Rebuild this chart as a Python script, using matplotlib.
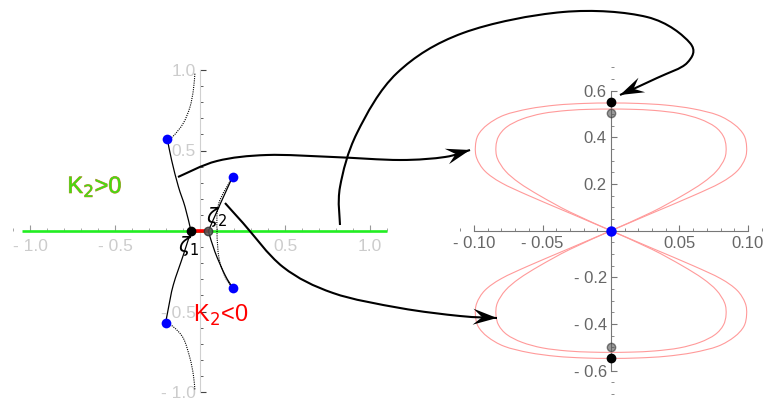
import matplotlib.pyplot as plt
import numpy as np
from matplotlib.path import Path
from matplotlib.patches import PathPatch, Polygon
import matplotlib.patheffects as pe
from matplotlib.ticker import MultipleLocator

plt.rcParams['font.family'] = ['Liberation Sans', 'DejaVu Sans']
plt.rcParams['mathtext.fontset'] = 'dejavusans'

# ---- left panel (complex plane) ----
blue_x = [-0.192, 0.192, 0.194, -0.202]
blue_y = [0.57, 0.337, -0.356, -0.57]
zeta1 = (-0.053, 0.0)
zeta2 = (0.049, 0.0)

solid_curves = [
    ([-0.192, -0.167, -0.127, -0.088, -0.053], [0.57, 0.44, 0.275, 0.15, 0.0]),
    ([-0.053, -0.098, -0.157, -0.186, -0.202], [0.0, -0.149, -0.335, -0.48, -0.57]),
    ([0.192, 0.12, 0.049], [0.337, 0.17, 0.0]),
    ([0.049, 0.088, 0.147, 0.194], [0.0, -0.13, -0.273, -0.356]),
]
dotted_curves = [
    ([-0.192, -0.157, -0.098, -0.059, -0.039, -0.03], [0.57, 0.59, 0.67, 0.77, 0.876, 0.98]),
    ([-0.202, -0.157, -0.098, -0.059, -0.039, -0.03], [-0.57, -0.595, -0.666, -0.79, -0.894, -0.987]),
    ([0.192, 0.11, 0.1, 0.112, 0.15, 0.194], [0.337, 0.17, 0.0, -0.17, -0.29, -0.356]),
]
left_xticks = [-1.0, -0.5, 0.5, 1.0]
left_xlabels = ['- 1.0', '- 0.5', '0.5', '1.0']
left_yticks = [-1.0, -0.5, 0.5, 1.0]
left_ylabels = ['- 1.0', '- 0.5', '0.5', '1.0']

# ---- right panel (figure-eight orbits), upper-right quarter of each loop ----
outer_x = [0, 0.03, 0.06, 0.08, 0.092, 0.098, 0.099, 0.097, 0.09, 0.078, 0.06, 0.04, 0.02, 0]
outer_y = [0, 0.075, 0.15, 0.205, 0.255, 0.31, 0.36, 0.41, 0.455, 0.495, 0.522, 0.538, 0.545, 0.547]
inner_x = [0, 0.03, 0.052, 0.067, 0.077, 0.083, 0.084, 0.082, 0.076, 0.065, 0.05, 0.032, 0.015, 0]
inner_y = [0, 0.08, 0.15, 0.205, 0.255, 0.31, 0.36, 0.405, 0.445, 0.478, 0.502, 0.515, 0.52, 0.521]
black_pts_y = [0.55, -0.545]
gray_pts_y = [0.503, -0.50]
right_xticks = [-0.10, -0.05, 0.05, 0.10]
right_xlabels = ['- 0.10', '- 0.05', '0.05', '0.10']
right_yticks = [-0.6, -0.4, -0.2, 0.2, 0.4, 0.6]
right_ylabels = ['- 0.6', '- 0.4', '- 0.2', '0.2', '0.4', '0.6']

# ---- connecting arrows (figure pixel waypoints) ----
arrow1 = [(178, 177), (217, 161), (267, 155), (333, 157), (400, 160), (445, 157), (470, 150)]
arrow2 = [(340, 225), (340, 187), (357, 133), (397, 73), (463, 33), (563, 12), (647, 17),
          (690, 43), (687, 63), (657, 78), (620, 95)]
arrow3 = [(225, 203), (243, 223), (283, 267), (333, 293), (400, 308), (460, 316), (497, 318)]


def smooth_path(xs, ys):
    pts = np.column_stack([xs, ys]).astype(float)
    ext = np.vstack([pts[0], pts, pts[-1]])
    verts = [pts[0]]
    codes = [Path.MOVETO]
    c2 = pts[0]
    for i in range(len(pts) - 1):
        p0, p1, p2, p3 = ext[i], ext[i + 1], ext[i + 2], ext[i + 3]
        c1 = p1 + (p2 - p0) / 6
        c2 = p2 - (p3 - p1) / 6
        verts += [c1, c2, p2]
        codes += [Path.CURVE4] * 3
    return Path(verts, codes), c2


def draw_curve(ax, xs, ys, **kw):
    path, _ = smooth_path(xs, ys)
    ax.add_patch(PathPatch(path, fill=False, transform=ax.transData, **kw))


fig = plt.figure(figsize=(7.68, 4.0), dpi=100)

# left axes: x px = 200 + 170x, y px = 231 - 161y
axl = fig.add_axes([13 / 768, 0.0, 382.5 / 768, 338 / 400])
axl.set_xlim(-1.1, 1.15)
axl.set_ylim(-169 / 161, 169 / 161)
axl.patch.set_alpha(0)
for s in ['top', 'right']:
    axl.spines[s].set_visible(False)
axl.spines['left'].set_position(('data', 0))
axl.spines['bottom'].set_position(('data', 0))
axl.spines['left'].set_bounds(-1.0, 1.0)
axl.spines['bottom'].set_bounds(-1.0, 1.0)
axl.spines['left'].set_color('#d0d0d0')
axl.spines['bottom'].set_color('#aaaaaa')
axl.set_xticks(left_xticks, left_xlabels)
axl.set_yticks(left_yticks, left_ylabels)
axl.xaxis.set_minor_locator(MultipleLocator(0.1))
axl.yaxis.set_minor_locator(MultipleLocator(0.1))
axl.tick_params(axis='both', which='both', direction='in', labelsize=12.5,
                labelcolor='#cccccc', color='#444444')
axl.tick_params(axis='x', which='both', color='#999999', pad=6)
axl.tick_params(axis='y', pad=3)
axl.tick_params(which='major', length=4)
axl.tick_params(which='minor', length=2.5)

axl.plot([-1.05, 1.1], [0, 0], color='#22ee22', lw=1.9, zorder=3, solid_capstyle='butt')
axl.plot([zeta1[0], zeta2[0]], [0, 0], color='red', lw=2.6, zorder=4)
for xs, ys in solid_curves:
    draw_curve(axl, xs, ys, color='black', lw=0.9, zorder=5)
for xs, ys in dotted_curves:
    draw_curve(axl, xs, ys, color='black', lw=0.8, ls=(0, (1, 1)), zorder=5)
axl.plot(blue_x, blue_y, 'o', color='blue', ms=7, mec='none', zorder=6)
axl.plot(*zeta1, 'o', color='black', ms=6, zorder=6)
axl.plot(*zeta2, 'o', color='#555555', alpha=0.85, ms=6, mec='#333333', zorder=6)

axl.text(-0.13, -0.093, r'$\zeta_1$', fontsize=15, ha='left', va='center', zorder=7)
axl.text(0.038, 0.09, r'$\zeta_2$', fontsize=15, ha='left', va='center', zorder=7)
axl.text(-0.78, 0.236, r'K$_2$>0', fontsize=17, color='#44dd11', ha='left', va='baseline',
         path_effects=[pe.withStroke(linewidth=0.6, foreground='#d08040')], zorder=7)
axl.text(-0.04, -0.565, r'K$_2$<0', fontsize=17, color='red', ha='left', va='baseline', zorder=7)

# right axes: x px = 611 + 1370x, y px = 230.7 - 233.5y
axr = fig.add_axes([453.5 / 768, 1.2 / 400, 315 / 768, 336.2 / 400])
axr.set_xlim(-0.115, 0.115)
axr.set_ylim(-0.72, 0.72)
axr.patch.set_alpha(0)
for s in ['top', 'right']:
    axr.spines[s].set_visible(False)
axr.spines['left'].set_position(('data', 0))
axr.spines['bottom'].set_position(('data', 0))
axr.spines['left'].set_bounds(-0.6, 0.6)
axr.spines['bottom'].set_bounds(-0.1, 0.1)
for s in ['left', 'bottom']:
    axr.spines[s].set_color('#777777')
axr.set_xticks(right_xticks, right_xlabels)
axr.set_yticks(right_yticks, right_ylabels)
axr.xaxis.set_minor_locator(MultipleLocator(0.01))
axr.yaxis.set_minor_locator(MultipleLocator(0.05))
axr.tick_params(axis='both', which='both', direction='in', labelsize=12,
                labelcolor='#666666', color='#777777')
axr.tick_params(axis='x', pad=4)
axr.tick_params(axis='y', pad=3)
axr.tick_params(which='major', length=4)
axr.tick_params(which='minor', length=2.5)

for qx, qy in [(outer_x, outer_y), (inner_x, inner_y)]:
    qx = np.array(qx)
    qy = np.array(qy)
    lobe_x = np.concatenate([qx, -qx[-2::-1]])
    lobe_y = np.concatenate([qy, qy[-2::-1]])
    draw_curve(axr, lobe_x, lobe_y, color='#ff9a9a', lw=0.8, zorder=3)
    draw_curve(axr, lobe_x, -lobe_y, color='#ff9a9a', lw=0.8, zorder=3)
axr.plot([0] * len(gray_pts_y), gray_pts_y, 'o', color='#555555', alpha=0.6, ms=6,
         mec='#333333', zorder=5)
axr.plot([0] * len(black_pts_y), black_pts_y, 'o', color='black', ms=6, zorder=5)
axr.plot([0], [0], 'o', color='blue', ms=7.5, mec='none', zorder=6)

# overlay for arrows, in pixel coordinates
ov = fig.add_axes([0, 0, 1, 1])
ov.set_xlim(0, 768)
ov.set_ylim(400, 0)
ov.axis('off')
ov.patch.set_alpha(0)
for pts in [arrow1, arrow2, arrow3]:
    xs, ys = zip(*pts)
    path, c2 = smooth_path(xs, ys)
    tip = np.array(pts[-1], dtype=float)
    u = tip - c2
    u = u / np.hypot(*u)
    n = np.array([-u[1], u[0]])
    L, W = 24, 8
    back = tip - L * u
    notch = tip - 0.62 * L * u
    ov.add_patch(PathPatch(path, fill=False, color='black', lw=1.5, zorder=10))
    ov.add_patch(Polygon([tip, back + W * n, notch, back - W * n], closed=True,
                         color='black', lw=0, zorder=11))

fig.savefig('out.png', dpi=100)
